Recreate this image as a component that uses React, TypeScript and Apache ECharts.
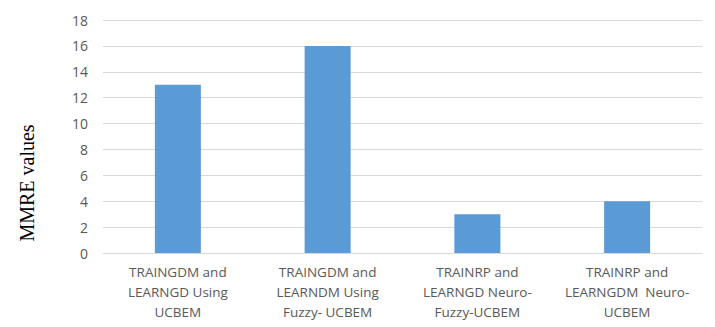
import React, { useEffect, useRef } from "react";
import * as echarts from "echarts";

const categories = [
  "TRAINGDM and\nLEARNGD Using\nUCBEM",
  "TRAINGDM and\nLEARNDM Using\nFuzzy- UCBEM",
  "TRAINRP and\nLEARNGD Neuro-\nFuzzy-UCBEM",
  "TRAINRP and\nLEARNGDM  Neuro-\nUCBEM",
];
const mmreValues = [13, 16, 3, 4];
const yAxisTitle = "MMRE values";

export default function App() {
  const ref = useRef<HTMLDivElement>(null);
  useEffect(() => {
    if (!ref.current) return;
    const chart = echarts.init(ref.current, null, { renderer: "svg" });
    chart.setOption({
      animation: false,
      backgroundColor: "#ffffff",
      grid: { left: 103, right: 13, top: 20, bottom: 74 },
      xAxis: {
        type: "category",
        data: categories,
        axisLine: { show: true, lineStyle: { color: "#d9d9d9", width: 1 } },
        axisTick: { show: false },
        axisLabel: {
          color: "#595959",
          fontFamily: "Open Sans",
          fontSize: 13.5,
          lineHeight: 20,
          margin: 9,
          interval: 0,
        },
      },
      yAxis: {
        type: "value",
        min: 0,
        max: 18,
        interval: 2,
        axisLine: { show: false },
        axisTick: { show: false },
        splitLine: { lineStyle: { color: "#d9d9d9", width: 1 } },
        axisLabel: {
          color: "#595959",
          fontFamily: "Open Sans",
          fontSize: 14,
          margin: 15,
        },
      },
      series: [
        {
          type: "bar",
          data: mmreValues,
          barWidth: 46,
          itemStyle: { color: "#5B9BD5" },
        },
      ],
      graphic: [
        {
          type: "text",
          x: 27,
          y: 183,
          rotation: Math.PI / 2,
          style: {
            text: yAxisTitle,
            fontFamily: "Liberation Serif",
            fontSize: 20,
            fill: "#000000",
            align: "center",
            verticalAlign: "middle",
          },
        },
      ],
    });
    return () => chart.dispose();
  }, []);
  return (
    <div
      ref={ref}
      style={{ position: "fixed", left: 0, top: 0, width: 715, height: 327 }}
    />
  );
}
